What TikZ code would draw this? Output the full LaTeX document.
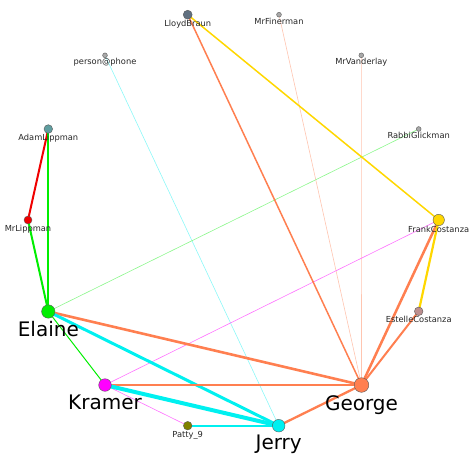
\documentclass[tikz,border=0pt]{standalone}
\usepackage{fontspec}
\setmainfont{DejaVu Sans}
\definecolor{cGreen}{RGB}{0,238,0}
\definecolor{cRed}{RGB}{240,0,0}
\definecolor{cCyan}{RGB}{0,240,240}
\definecolor{cCoral}{RGB}{255,127,80}
\definecolor{cGold}{RGB}{255,215,0}
\definecolor{cMag}{RGB}{255,0,255}
\definecolor{cSlate}{RGB}{96,112,128}
\definecolor{cCadet}{RGB}{95,158,160}
\definecolor{cOlive}{RGB}{128,128,0}
\definecolor{cRosy}{RGB}{188,143,143}
\definecolor{cGray}{RGB}{169,169,169}
\tikzset{
  vtx/.style={circle, draw=black!65, line width=0.4pt, inner sep=0pt, minimum size=#1},
  slab/.style={anchor=base, inner sep=0pt, font=\fontsize{8.3}{9}\selectfont, text=black!85},
  blab/.style={anchor=base, inner sep=0pt, font=\fontsize{20}{22}\selectfont, text=black},
  edge/.style={line width=#1, line cap=butt},
}
\begin{document}
\begin{tikzpicture}[x=1pt,y=-1pt]
\useasboundingbox (0,0) rectangle (471,453);
% node positions
\coordinate (pLloyd) at (187.7,14.7);
\coordinate (pFiner) at (279,14.7);
\coordinate (pVander) at (361.3,55.3);
\coordinate (pPhone) at (105,55.3);
\coordinate (pAdam) at (48.3,129);
\coordinate (pRabbi) at (418.7,129);
\coordinate (pMrL) at (28,220);
\coordinate (pFrank) at (438.7,220);
\coordinate (pElaine) at (48.3,311.5);
\coordinate (pEstelle) at (418.7,311.3);
\coordinate (pKramer) at (105,385);
\coordinate (pGeorge) at (361.5,385);
\coordinate (pPatty) at (187.7,425.7);
\coordinate (pJerry) at (278.7,425.7);
% edges
\draw[edge=0.6pt, cCoral!45] (pFiner) -- (pGeorge);
\draw[edge=0.6pt, cCoral!45] (pVander) -- (pGeorge);
\draw[edge=0.6pt, cCyan!45] (pPhone) -- (pJerry);
\draw[edge=0.6pt, cGreen!45] (pRabbi) -- (pElaine);
\draw[edge=0.6pt, cMag!55] (pFrank) -- (pKramer);
\draw[edge=0.6pt, cMag!55] (pKramer) -- (pPatty);
\draw[edge=1.5pt, cGold] (pLloyd) -- (pFrank);
\draw[edge=1.5pt, cCoral] (pLloyd) -- (pGeorge);
\draw[edge=2pt, cRed] (pAdam) -- (pMrL);
\draw[edge=2pt, cGreen] (pAdam) -- (pElaine);
\draw[edge=2pt, cGreen] (pMrL) -- (pElaine);
\draw[edge=1pt, cGreen] (pElaine) -- (pKramer);
\draw[edge=2.5pt, cCoral] (pFrank) -- (pGeorge);
\draw[edge=2.2pt, cGold] (pFrank) -- (pEstelle);
\draw[edge=2pt, cCoral] (pEstelle) -- (pGeorge);
\draw[edge=2.6pt, cCoral] (pElaine) -- (pGeorge);
\draw[edge=3pt, cCyan] (pElaine) -- (pJerry);
\draw[edge=2.5pt, cCoral] (pKramer) -- (pGeorge);
\draw[edge=4pt, cCyan] (pKramer) -- (pJerry);
\draw[edge=2.3pt, cCyan] (pPatty) -- (pJerry);
\draw[edge=2.3pt, cCoral] (pJerry) -- (pGeorge);
% nodes
\node[vtx=9pt, fill=cSlate] (LloydBraun) at (pLloyd) {};
\node[vtx=4.8pt, fill=cGray] (MrFinerman) at (pFiner) {};
\node[vtx=4.8pt, fill=cGray] (MrVanderlay) at (pVander) {};
\node[vtx=4.8pt, fill=cGray] (person) at (pPhone) {};
\node[vtx=8.6pt, fill=cCadet] (AdamLippman) at (pAdam) {};
\node[vtx=4.8pt, fill=cGray] (RabbiGlickman) at (pRabbi) {};
\node[vtx=8pt, fill=cRed] (MrLippman) at (pMrL) {};
\node[vtx=11.4pt, fill=cGold] (FrankCostanza) at (pFrank) {};
\node[vtx=13.4pt, fill=cGreen] (Elaine) at (pElaine) {};
\node[vtx=8.6pt, fill=cRosy] (EstelleCostanza) at (pEstelle) {};
\node[vtx=12.6pt, fill=cMag] (Kramer) at (pKramer) {};
\node[vtx=14.6pt, fill=cCoral] (George) at (pGeorge) {};
\node[vtx=8.6pt, fill=cOlive] (Patty) at (pPatty) {};
\node[vtx=12.6pt, fill=cCyan] (Jerry) at (pJerry) {};
% labels
\node[slab] (lLloyd) at (187.7,26.2) {LloydBraun};
\node[slab] (lFiner) at (279,24.1) {MrFinerman};
\node[slab] (lVander) at (361.3,64.7) {MrVanderlay};
\node[slab] (lPhone) at (105,64.7) {person@phone};
\node[slab] (lAdam) at (48.3,140.3) {AdamLippman};
\node[slab] (lRabbi) at (418.7,138.4) {RabbiGlickman};
\node[slab] (lMrL) at (28,231) {MrLippman};
\node[slab] (lFrank) at (438.7,232.7) {FrankCostanza};
\node[slab] (lEstelle) at (418.7,322.6) {EstelleCostanza};
\node[slab] (lPatty) at (187.7,437) {Patty\_9};
\node[blab] (lElaine) at (48.3,336.7) {Elaine};
\node[blab] (lKramer) at (105,409.8) {Kramer};
\node[blab] (lGeorge) at (361.5,410.8) {George};
\node[blab] (lJerry) at (278.7,449.5) {Jerry};
\end{tikzpicture}
\end{document}
